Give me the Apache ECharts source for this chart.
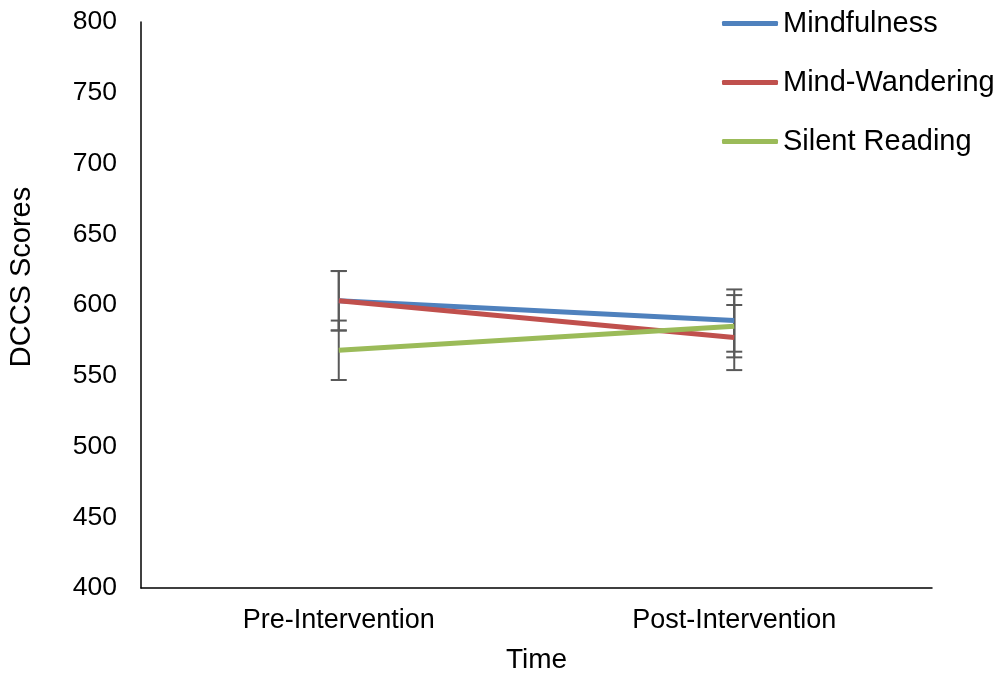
<!DOCTYPE html>
<html>
<head>
<meta charset="utf-8">
<script src="https://cdn.jsdelivr.net/npm/echarts@6/dist/echarts.min.js"></script>
<style>
  html, body { margin: 0; padding: 0; background: #fff; }
  #chart { width: 1001px; height: 674px; }
</style>
</head>
<body>
<div id="chart"></div>
<script>
// categories on the x axis
const timePoints = ['Pre-Intervention', 'Post-Intervention'];

// group names
const groups = ['Mindfulness', 'Mind-Wandering', 'Silent Reading'];

// mean DCCS scores
const mindfulness = [603, 589];
const mindWandering = [603, 577];
const silentReading = [568, 585];

// error bar half-widths
const mindfulnessErr = [21, 22];
const mindWanderingErr = [21, 23];
const silentReadingErr = [21, 22];

// y axis ticks
const yMin = 400;
const yMax = 800;
const yStep = 50;

const colors = ['#4F81BD', '#C0504D', '#9BBB59'];
const font = 'Liberation Sans, Arial, sans-serif';

const chart = echarts.init(document.getElementById('chart'));

function errData(means, errs) {
  return means.map((m, i) => [i, m - errs[i], m + errs[i]]);
}

function errSeries(means, errs) {
  return {
    type: 'custom',
    z: 1,
    silent: true,
    data: errData(means, errs),
    renderItem: function (params, api) {
      const lo = api.coord([api.value(0), api.value(1)]);
      const hi = api.coord([api.value(0), api.value(2)]);
      const half = 8;
      const style = { stroke: '#595959', lineWidth: 2 };
      return {
        type: 'group',
        children: [
          { type: 'line', shape: { x1: lo[0], y1: lo[1], x2: hi[0], y2: hi[1] }, style: style },
          { type: 'line', shape: { x1: lo[0] - half, y1: lo[1], x2: lo[0] + half, y2: lo[1] }, style: style },
          { type: 'line', shape: { x1: hi[0] - half, y1: hi[1], x2: hi[0] + half, y2: hi[1] }, style: style }
        ]
      };
    }
  };
}

function lineSeries(name, data, color) {
  return {
    name: name,
    type: 'line',
    z: 3,
    data: data,
    showSymbol: false,
    symbol: 'none',
    lineStyle: { color: color, width: 5 },
    itemStyle: { color: color }
  };
}

chart.setOption({
  animation: false,
  grid: { left: 141, right: 69, top: 22, bottom: 86, outerBoundsMode: 'none' },
  legend: {
    orient: 'vertical',
    left: 717,
    top: 4,
    itemGap: 30,
    itemWidth: 56,
    itemHeight: 5,
    icon: 'roundRect',
    textStyle: { fontSize: 29, color: '#000', fontFamily: font },
    data: groups
  },
  xAxis: {
    type: 'category',
    data: timePoints,
    name: 'Time',
    nameLocation: 'middle',
    nameGap: 58,
    nameTextStyle: { fontSize: 28, color: '#000', fontFamily: font },
    axisLine: { lineStyle: { color: '#000', width: 1.5 } },
    axisTick: { show: false },
    axisLabel: { fontSize: 27, color: '#000', fontFamily: font, margin: 19 }
  },
  yAxis: {
    type: 'value',
    min: yMin,
    max: yMax,
    interval: yStep,
    axisLine: { show: true, lineStyle: { color: '#000', width: 1.5 } },
    axisTick: { show: false },
    splitLine: { show: false },
    axisLabel: { fontSize: 26.5, color: '#000', fontFamily: font, margin: 24 }
  },
  graphic: [{
    type: 'text',
    x: 22,
    y: 277,
    rotation: Math.PI / 2,
    style: {
      text: 'DCCS Scores',
      fontSize: 29,
      fontFamily: font,
      fill: '#000',
      align: 'center',
      verticalAlign: 'middle'
    }
  }],
  series: [
    errSeries(mindfulness, mindfulnessErr),
    errSeries(mindWandering, mindWanderingErr),
    errSeries(silentReading, silentReadingErr),
    lineSeries(groups[0], mindfulness, colors[0]),
    lineSeries(groups[1], mindWandering, colors[1]),
    lineSeries(groups[2], silentReading, colors[2])
  ]
});
</script>
</body>
</html>
